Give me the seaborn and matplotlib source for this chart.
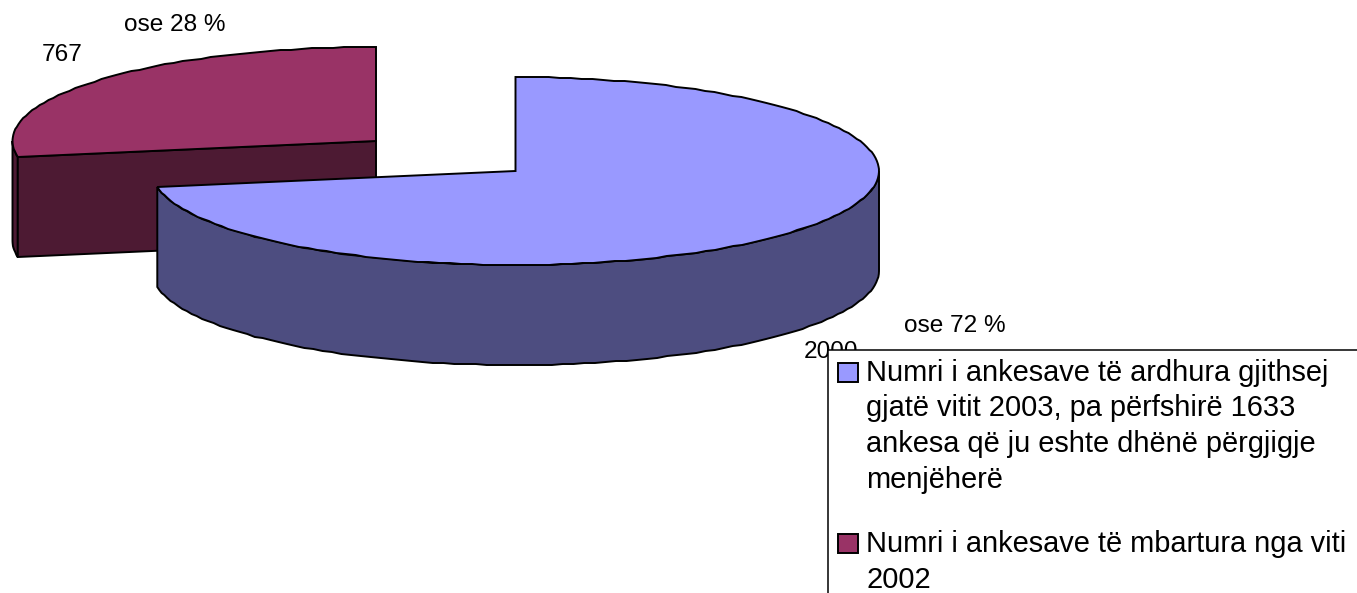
import numpy as np
import seaborn as sns
import matplotlib.pyplot as plt
from matplotlib.patches import Rectangle

# Slice values and labels
values = [2000, 767]
value_labels = ['2000', '767']
percent_labels = ['ose 72 %', 'ose 28 %']
legend_lines = [
    ['Numri i ankesave të ardhura gjithsej',
     'gjatë vitit 2003, pa përfshirë 1633',
     'ankesa që ju eshte dhënë përgjigje',
     'menjëherë'],
    ['Numri i ankesave të mbartura nga viti',
     '2002'],
]
top_colors = ['#9999FF', '#993366']
side_colors = ['#4D4D80', '#4D1A33']

sns.set_theme(style='white')
plt.rcParams['font.family'] = ['Liberation Sans', 'DejaVu Sans']

fig = plt.figure(figsize=(13.57, 5.93), dpi=100)
ax = fig.add_axes([0, 0, 1, 1])
ax.set_xlim(0, 1357)
ax.set_ylim(593, 0)
ax.axis('off')

# Fake 3D pie geometry, pixels
rx, ry, depth = 363.5, 94, 100
centers = [(515.5, 171), (376, 141)]

# Angles clockwise from 12 o'clock
total = sum(values)
split = 2 * np.pi * values[0] / total
spans = [(0, split), (split, 2 * np.pi)]


def rim(c, a0, a1, n=150):
    # y snapped to whole pixels so the edge has the same slight roughness
    t = np.linspace(a0, a1, n)
    return c[0] + rx * np.sin(t), np.round(c[1] - ry * np.cos(t))


lw = 1.4

# Red slice first, blue sits in front of it
c = centers[1]
a0, a1 = spans[1]
x, y = rim(c, a0, a1, 60)
ex, ey = x[0], y[0]
lx, ly = rim(c, a0, 1.5 * np.pi, 8)
ax.fill(np.r_[lx, lx[::-1]], np.r_[ly, ly[::-1] + depth],
        fc=side_colors[1], ec='black', lw=lw)
ax.fill([ex, c[0], c[0], ex], [ey, c[1], c[1] + depth, ey + depth],
        fc=side_colors[1], ec='black', lw=lw)
ax.fill(np.r_[c[0], x], np.r_[c[1], y], fc=top_colors[1], ec='black', lw=lw)

c = centers[0]
a0, a1 = spans[0]
x, y = rim(c, a0, a1)
sx, sy = rim(c, 0.5 * np.pi, a1, 100)
ax.fill(np.r_[sx, sx[::-1]], np.r_[sy, sy[::-1] + depth],
        fc=side_colors[0], ec='black', lw=lw)
ax.fill(np.r_[c[0], x], np.r_[c[1], y], fc=top_colors[0], ec='black', lw=lw)

# Data labels
label_size = 17.6
ax.text(804, 358, value_labels[0], fontsize=label_size, color='black', va='baseline')
ax.text(904, 332, percent_labels[0], fontsize=label_size, color='black', va='baseline')
ax.text(42, 61, value_labels[1], fontsize=label_size, color='black', va='baseline')
ax.text(124, 31, percent_labels[1], fontsize=label_size, color='black', va='baseline')

# Legend box runs off the canvas
ax.add_patch(Rectangle((828, 350), 600, 300, fc='white', ec='black', lw=1.1, zorder=5))
swatch_tops = [363, 534]
line_tops = [[381, 416.5, 452, 487.5], [552, 587.5]]
for i in range(2):
    ax.add_patch(Rectangle((838, swatch_tops[i]), 20, 19, fc=top_colors[i], ec='black', lw=1.4, zorder=6))
    for line, yy in zip(legend_lines[i], line_tops[i]):
        ax.text(866, yy, line, fontsize=20.9, color='black', va='baseline', zorder=6)

fig.savefig('out.png', dpi=100)
